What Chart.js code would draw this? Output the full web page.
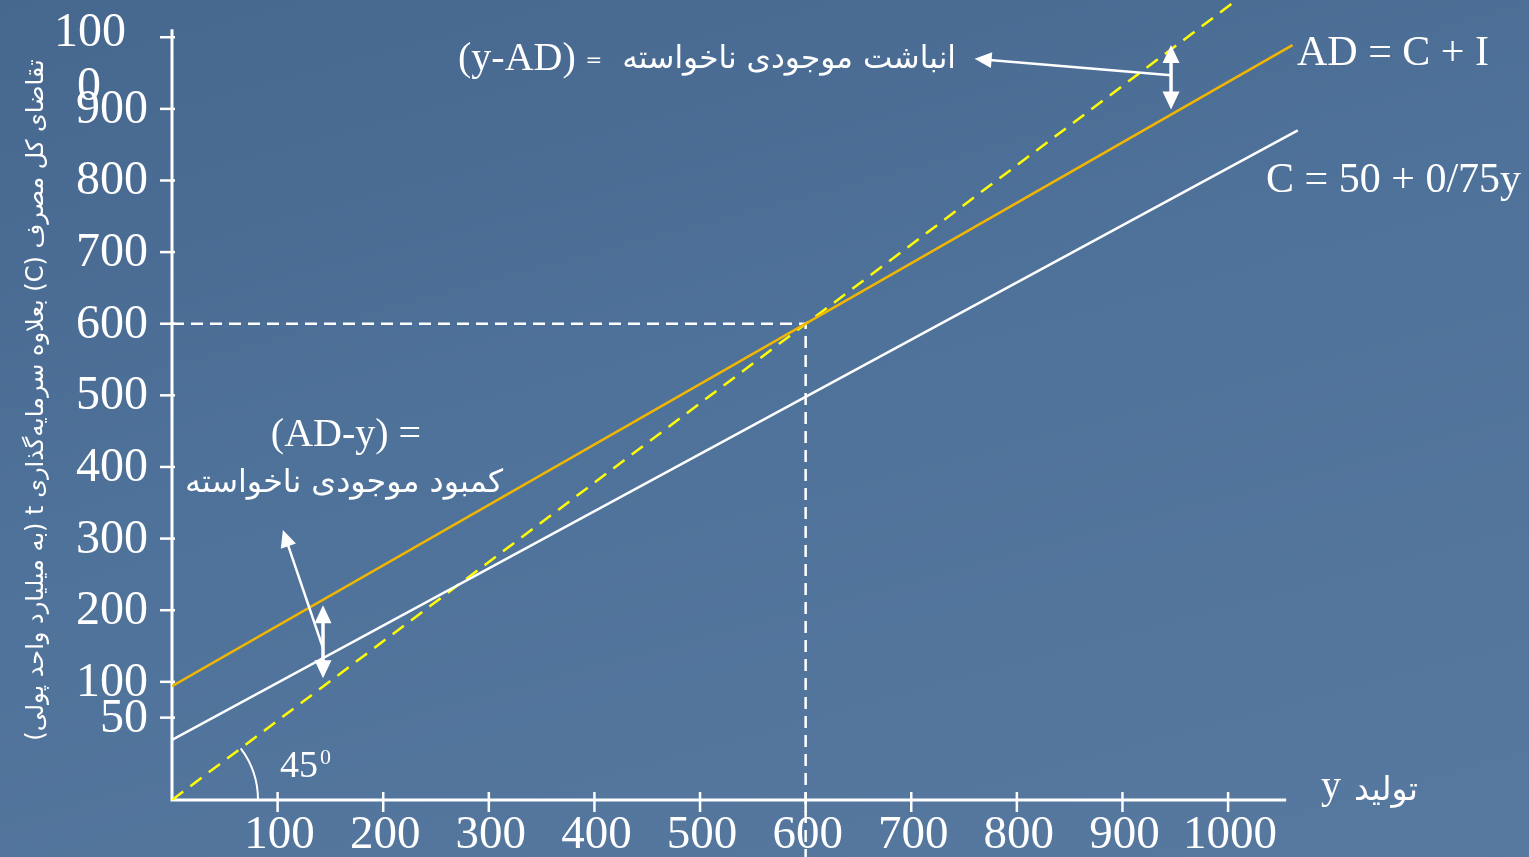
<!DOCTYPE html>
<html>
<head>
<meta charset="utf-8">
<script src="https://cdn.jsdelivr.net/npm/chart.js@4.4.1/dist/chart.umd.min.js"></script>
<style>
  html, body { margin: 0; padding: 0; overflow: hidden; }
  body {
    width: 1529px; height: 857px;
    background: linear-gradient(165deg, #46678e 0%, #4f729a 45%, #5779a0 100%);
  }
  canvas { display: block; }
</style>
</head>
<body>
<canvas id="chart" width="1529" height="857"></canvas>
<script>
// tick labels
const xTicks = [100, 200, 300, 400, 500, 600, 700, 800, 900, 1000];
const yTicks = [50, 100, 200, 300, 400, 500, 600, 700, 800, 900, 1000];

// AD = C + I
const adX = [0, 1061];
const adY = [94, 989];
// C = 50 + 0.75y
const cX = [0, 1066];
const cY = [19, 870];
// 45 degree line
const diagX = [0, 1020];
const diagY = [-65, 1065];
// equilibrium guide (600, 600)
const eqX = [0, 600, 600];
const eqY = [600, 600, -145];

// gap arrows (between AD and the 45 line)
const gapArrowX = [143, 946];
const gapArrowTop = [207, 989];
const gapArrowBottom = [105, 899];
// pointer arrows from gap to text
const pointerFromX = [143, 946], pointerFromY = [147, 947];
const pointerToX = [105, 760], pointerToY = [312, 970];

const SERIF = "'Liberation Serif', 'Times New Roman', serif";
const FA = "'DejaVu Sans', sans-serif";

function pts(xs, ys) {
  return xs.map((x, i) => ({ x: x, y: ys[i] }));
}

function fitSize(ctx, text, fam, w) {
  ctx.font = '100px ' + fam;
  return 100 * w / ctx.measureText(text).width;
}

function head(ctx, tx, ty, fx, fy, len, half) {
  const a = Math.atan2(ty - fy, tx - fx);
  ctx.beginPath();
  ctx.moveTo(tx, ty);
  ctx.lineTo(tx - len * Math.cos(a) + half * Math.sin(a), ty - len * Math.sin(a) - half * Math.cos(a));
  ctx.lineTo(tx - len * Math.cos(a) - half * Math.sin(a), ty - len * Math.sin(a) + half * Math.cos(a));
  ctx.closePath();
  ctx.fill();
}

const axesPlugin = {
  id: 'axesPlugin',
  beforeDatasetsDraw(chart) {
    const ctx = chart.ctx, xs = chart.scales.x, ys = chart.scales.y;
    const x0 = xs.getPixelForValue(0), yb = chart.chartArea.bottom;
    ctx.save();
    ctx.strokeStyle = '#ffffff';
    ctx.lineWidth = 3;
    ctx.beginPath();
    ctx.moveTo(x0, ys.getPixelForValue(1011));
    ctx.lineTo(x0, yb);
    ctx.lineTo(xs.getPixelForValue(1055), yb);
    ctx.stroke();
    ctx.lineWidth = 2.5;
    yTicks.forEach(v => {
      const p = ys.getPixelForValue(v);
      ctx.beginPath(); ctx.moveTo(x0 - 12, p); ctx.lineTo(x0 + 3, p); ctx.stroke();
    });
    xTicks.forEach(v => {
      const p = xs.getPixelForValue(v);
      ctx.beginPath(); ctx.moveTo(p, yb - 8); ctx.lineTo(p, yb + 12); ctx.stroke();
    });
    ctx.restore();
  },
  afterDatasetsDraw(chart) {
    const ctx = chart.ctx, xs = chart.scales.x, ys = chart.scales.y;
    const px = v => xs.getPixelForValue(v), py = v => ys.getPixelForValue(v);
    const yb = chart.chartArea.bottom;
    ctx.save();
    ctx.fillStyle = '#ffffff';
    ctx.strokeStyle = '#ffffff';

    // tick labels
    ctx.font = '48px ' + SERIF;
    ctx.textBaseline = 'alphabetic';
    ctx.textAlign = 'right';
    yTicks.forEach(v => {
      if (v === 1000) return;
      ctx.fillText(String(v), 148, py(v) + 14);
    });
    ctx.textAlign = 'center';
    ctx.fillText('100', 90, 46);
    ctx.fillText('0', 89, 100);
    ctx.font = '47px ' + SERIF;
    xTicks.forEach(v => ctx.fillText(String(v), px(v) + 2, yb + 48));

    // axis titles
    const yTitle = 'تقاضای کل مصرف (C) بعلاوه سرمایه\u200cگذاری t (به میلیارد واحد پولی)';
    ctx.save();
    ctx.translate(37, 400);
    ctx.rotate(-Math.PI / 2);
    ctx.direction = 'rtl';
    ctx.font = fitSize(ctx, yTitle, FA, 680).toFixed(1) + 'px ' + FA;
    ctx.textAlign = 'center';
    ctx.textBaseline = 'middle';
    ctx.fillText(yTitle, 0, 0);
    ctx.restore();

    ctx.textAlign = 'left';
    ctx.font = '40px ' + SERIF;
    ctx.fillText('y', 1321, 798);
    ctx.direction = 'rtl';
    ctx.font = fitSize(ctx, 'تولید', FA, 64).toFixed(1) + 'px ' + FA;
    ctx.textAlign = 'right';
    ctx.fillText('تولید', 1418, 800);
    ctx.direction = 'ltr';

    // line labels
    ctx.textAlign = 'left';
    ctx.font = '42px ' + SERIF;
    ctx.fillText('AD = C + I', 1297, 65);
    ctx.fillText('C = 50 + 0/75y', 1266, 192);

    // top annotation
    ctx.font = '40px ' + SERIF;
    ctx.fillText('(y-AD)', 458, 70);
    ctx.font = '20px ' + FA;
    ctx.textAlign = 'center';
    ctx.fillText('=', 594, 66);
    const topFa = 'انباشت موجودی ناخواسته';
    ctx.direction = 'rtl';
    ctx.textAlign = 'right';
    ctx.font = fitSize(ctx, topFa, FA, 334).toFixed(1) + 'px ' + FA;
    ctx.fillText(topFa, 956, 68);
    ctx.direction = 'ltr';

    // lower annotation
    ctx.textAlign = 'center';
    ctx.font = '40px ' + SERIF;
    ctx.fillText('(AD-y) =', 346, 446);
    const lowFa = 'کمبود موجودی ناخواسته';
    ctx.direction = 'rtl';
    ctx.font = fitSize(ctx, lowFa, FA, 318).toFixed(1) + 'px ' + FA;
    ctx.fillText(lowFa, 344, 492);
    ctx.direction = 'ltr';

    // 45 degree mark
    ctx.textAlign = 'left';
    ctx.font = '38px ' + SERIF;
    ctx.fillText('45', 280, 777);
    ctx.font = '22px ' + SERIF;
    ctx.fillText('0', 320, 764);
    const ox = px(0), oy = py(-65);
    const ang = Math.atan2(py(diagY[1]) - oy, px(diagX[1]) - ox);
    ctx.lineWidth = 2;
    ctx.beginPath();
    ctx.arc(ox, oy, 86, ang, 0);
    ctx.stroke();

    // gap arrows
    ctx.lineWidth = 3.5;
    gapArrowX.forEach((v, i) => {
      const x = px(v), t = py(gapArrowTop[i]), b = py(gapArrowBottom[i]);
      ctx.beginPath(); ctx.moveTo(x, t + 14); ctx.lineTo(x, b - 14); ctx.stroke();
      head(ctx, x, t, x, b, 18, 8.5);
      head(ctx, x, b, x, t, 18, 8.5);
    });
    // pointers
    ctx.lineWidth = 2.5;
    pointerFromX.forEach((v, i) => {
      const fx = px(v), fy = py(pointerFromY[i]);
      const tx = px(pointerToX[i]), ty = py(pointerToY[i]);
      const a = Math.atan2(ty - fy, tx - fx);
      ctx.beginPath(); ctx.moveTo(fx, fy); ctx.lineTo(tx - 12 * Math.cos(a), ty - 12 * Math.sin(a)); ctx.stroke();
      head(ctx, tx, ty, fx, fy, 17, 8);
    });
    ctx.restore();
  }
};

new Chart(document.getElementById('chart'), {
  type: 'scatter',
  data: {
    datasets: [{
      label: 'AD = C + I',
      data: pts(adX, adY),
      borderColor: '#f2b600',
      borderWidth: 2.5
    }, {
      label: 'C = 50 + 0/75y',
      data: pts(cX, cY),
      borderColor: '#ffffff',
      borderWidth: 2.5
    }, {
      label: '45',
      data: pts(diagX, diagY),
      borderColor: '#ffff00',
      borderWidth: 2.5,
      borderDash: [14, 9]
    }, {
      label: 'equilibrium',
      data: pts(eqX, eqY),
      borderColor: '#ffffff',
      borderWidth: 2.5,
      borderDash: [12, 7],
      clip: false
    }]
  },
  options: {
    responsive: false,
    animation: false,
    showLine: true,
    layout: { padding: { left: 172, right: 227, top: 0, bottom: 57 } },
    elements: { point: { radius: 0, hoverRadius: 0 }, line: { tension: 0, borderCapStyle: 'butt' } },
    plugins: { legend: { display: false }, tooltip: { enabled: false }, title: { display: false } },
    scales: {
      x: { type: 'linear', min: 0, max: 1070, display: false },
      y: { type: 'linear', min: -65, max: 1052, display: false }
    }
  },
  plugins: [axesPlugin]
});
</script>
</body>
</html>
